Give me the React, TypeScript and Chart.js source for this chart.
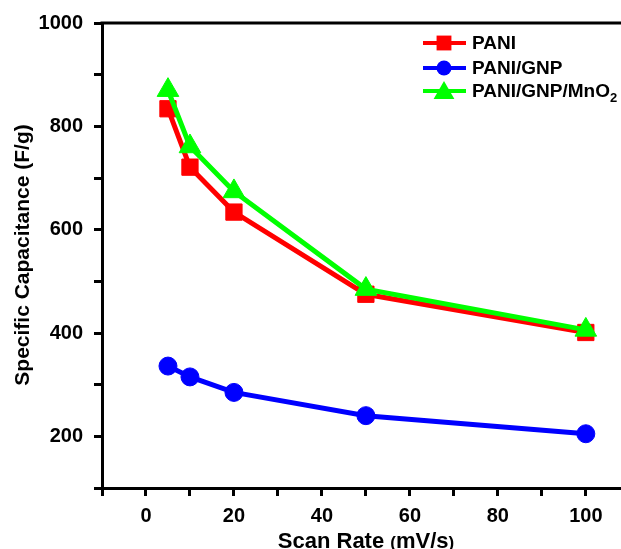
import React, { useEffect, useRef } from 'react';
import { Chart, registerables } from 'chart.js';

Chart.register(...registerables);

const scanRates = [5, 10, 20, 50, 100];
const pani = [834, 721, 634, 475, 401];
const paniGnp = [336, 315, 285, 240, 205];
const paniGnpMnO2 = [870, 761, 674, 485, 406];

const xTicks = [-10, 0, 10, 20, 30, 40, 50, 60, 70, 80, 90, 100];
const xTickLabels = [0, 20, 40, 60, 80, 100];
const yTicks = [100, 200, 300, 400, 500, 600, 700, 800, 900, 1000];
const yTickLabels = [200, 400, 600, 800, 1000];

const seriesNames = ['PANI', 'PANI/GNP', 'PANI/GNP/MnO₂'];
const seriesColors = ['#FF0000', '#0000FF', '#00FF00'];
const seriesMarkers = ['rect', 'circle', 'triangle'];

const xTitleMain = 'Scan Rate ';
const xTitleUnit = 'mV/s';
const yTitle = 'Specific Capacitance (F/g)';

const FONT = '"Liberation Sans", Arial, Helvetica, sans-serif';

function drawMarker(ctx: CanvasRenderingContext2D, style: string, x: number, y: number, r: number) {
  ctx.beginPath();
  if (style === 'rect') {
    const s = r * Math.SQRT1_2;
    ctx.rect(x - s, y - s, 2 * s, 2 * s);
  } else if (style === 'circle') {
    ctx.arc(x, y, r, 0, Math.PI * 2);
  } else {
    for (let i = 0; i < 3; i++) {
      const a = (i * 2 * Math.PI) / 3;
      const px = x + Math.sin(a) * r;
      const py = y - Math.cos(a) * r;
      if (i === 0) ctx.moveTo(px, py);
      else ctx.lineTo(px, py);
    }
    ctx.closePath();
  }
  ctx.fill();
}

const decorPlugin = {
  id: 'decor',
  afterLayout(chart: any) {
    // let the plot run to the right edge of the canvas, as in the reference
    const W = chart.width;
    const xs = chart.scales.x;
    chart.chartArea.right = W;
    chart.chartArea.width = W - chart.chartArea.left;
    xs.right = W;
    xs.width = W - xs.left;
    xs.configure();
  },
  afterDraw(chart: any) {
    const ctx: CanvasRenderingContext2D = chart.ctx;
    const area = chart.chartArea;
    ctx.save();
    // top frame line
    ctx.strokeStyle = '#000';
    ctx.lineWidth = 3;
    ctx.beginPath();
    ctx.moveTo(area.left - 1.5, area.top);
    ctx.lineTo(chart.width, area.top);
    ctx.stroke();

    // y title
    ctx.fillStyle = '#000';
    ctx.font = `bold 21px ${FONT}`;
    ctx.save();
    ctx.translate(23, 255);
    ctx.rotate(-Math.PI / 2);
    ctx.textAlign = 'center';
    ctx.textBaseline = 'middle';
    ctx.fillText(yTitle, 0, 0);
    ctx.restore();

    // x title with smaller parentheses
    const bigFont = `bold 22px ${FONT}`;
    const smallFont = `bold 17px ${FONT}`;
    ctx.textAlign = 'left';
    ctx.textBaseline = 'alphabetic';
    ctx.font = bigFont;
    const wMain = ctx.measureText(xTitleMain).width;
    const wUnit = ctx.measureText(xTitleUnit).width;
    ctx.font = smallFont;
    const wPar = ctx.measureText('(').width;
    const total = wMain + wUnit + 2 * wPar;
    let cx = 366 - total / 2;
    const base = 548;
    ctx.font = bigFont;
    ctx.fillText(xTitleMain, cx, base);
    cx += wMain;
    ctx.font = smallFont;
    ctx.fillText('(', cx, base);
    cx += wPar;
    ctx.font = bigFont;
    ctx.fillText(xTitleUnit, cx, base);
    cx += wUnit;
    ctx.font = smallFont;
    ctx.fillText(')', cx, base);

    // legend
    const legendYs = [43, 68, 91];
    const markerR = [10.5, 7.5, 12];
    for (let i = 0; i < seriesNames.length; i++) {
      const y = legendYs[i];
      ctx.strokeStyle = seriesColors[i];
      ctx.fillStyle = seriesColors[i];
      ctx.lineWidth = 4;
      ctx.beginPath();
      ctx.moveTo(423, y);
      ctx.lineTo(466, y);
      ctx.stroke();
      const my = seriesMarkers[i] === 'triangle' ? y + 2 : y;
      drawMarker(ctx, seriesMarkers[i], 444, my, markerR[i]);
      ctx.fillStyle = '#000';
      ctx.textBaseline = 'middle';
      ctx.font = `bold 19px ${FONT}`;
      const name = seriesNames[i];
      const parts = name.split('₂');
      ctx.fillText(parts[0], 472, y + 1);
      if (parts.length > 1) {
        const w = ctx.measureText(parts[0]).width;
        ctx.font = `bold 13px ${FONT}`;
        ctx.fillText('2', 472 + w, y + 7);
      }
    }
    ctx.restore();
  },
};

export default function App() {
  const ref = useRef<HTMLCanvasElement | null>(null);

  useEffect(() => {
    if (!ref.current) return;
    const mk = (label: string, data: number[], i: number, radius: number, order: number) => ({
      label,
      data: scanRates.map((x, k) => ({ x, y: data[k] })),
      borderColor: seriesColors[i],
      backgroundColor: seriesColors[i],
      pointBackgroundColor: seriesColors[i],
      pointBorderColor: seriesColors[i],
      pointBorderWidth: 1,
      pointStyle: seriesMarkers[i],
      pointRadius: radius,
      borderWidth: 5,
      tension: 0,
      fill: false,
      order,
      clip: false,
    });
    const chart = new Chart(ref.current, {
      type: 'line',
      data: {
        datasets: [
          mk(seriesNames[0], pani, 0, 11.5, 1),
          mk(seriesNames[1], paniGnp, 1, 9, 2),
          mk(seriesNames[2], paniGnpMnO2, 2, 12.5, 0),
        ] as any,
      },
      options: {
        responsive: false,
        animation: false,
        devicePixelRatio: 1,
        layout: { padding: { top: 23, left: 0, right: 0, bottom: 0 } },
        plugins: { legend: { display: false }, tooltip: { enabled: false } },
        scales: {
          x: {
            type: 'linear',
            min: -10,
            max: 108,
            afterBuildTicks: (s: any) => {
              s.ticks = xTicks.map((v) => ({ value: v }));
            },
            afterFit: (s: any) => {
              s.height = 61;
            },
            ticks: {
              autoSkip: false,
              maxRotation: 0,
              padding: 8,
              color: '#000',
              font: { family: FONT, size: 20, weight: 'bold' },
              callback: (v: any) => (xTickLabels.includes(Number(v)) ? String(v) : ''),
            },
            grid: {
              drawOnChartArea: false,
              drawTicks: true,
              tickLength: 8,
              tickWidth: 3,
              tickColor: '#000',
            },
            border: { display: true, color: '#000', width: 3 },
          },
          y: {
            type: 'linear',
            min: 100,
            max: 1000,
            afterBuildTicks: (s: any) => {
              s.ticks = yTicks.map((v) => ({ value: v }));
            },
            afterFit: (s: any) => {
              s.width = 102;
            },
            ticks: {
              autoSkip: false,
              padding: 11,
              color: '#000',
              font: { family: FONT, size: 20, weight: 'bold' },
              callback: (v: any) => (yTickLabels.includes(Number(v)) ? String(v) : ''),
            },
            grid: {
              drawOnChartArea: false,
              drawTicks: true,
              tickLength: 8,
              tickWidth: 3,
              tickColor: '#000',
            },
            border: { display: true, color: '#000', width: 3 },
          },
        },
      } as any,
      plugins: [decorPlugin],
    });
    return () => chart.destroy();
  }, []);

  return (
    <div style={{ position: 'fixed', left: 0, top: 0, width: 621, height: 549, background: '#fff' }}>
      <canvas ref={ref} width={621} height={549} style={{ display: 'block', width: 621, height: 549 }} />
    </div>
  );
}
